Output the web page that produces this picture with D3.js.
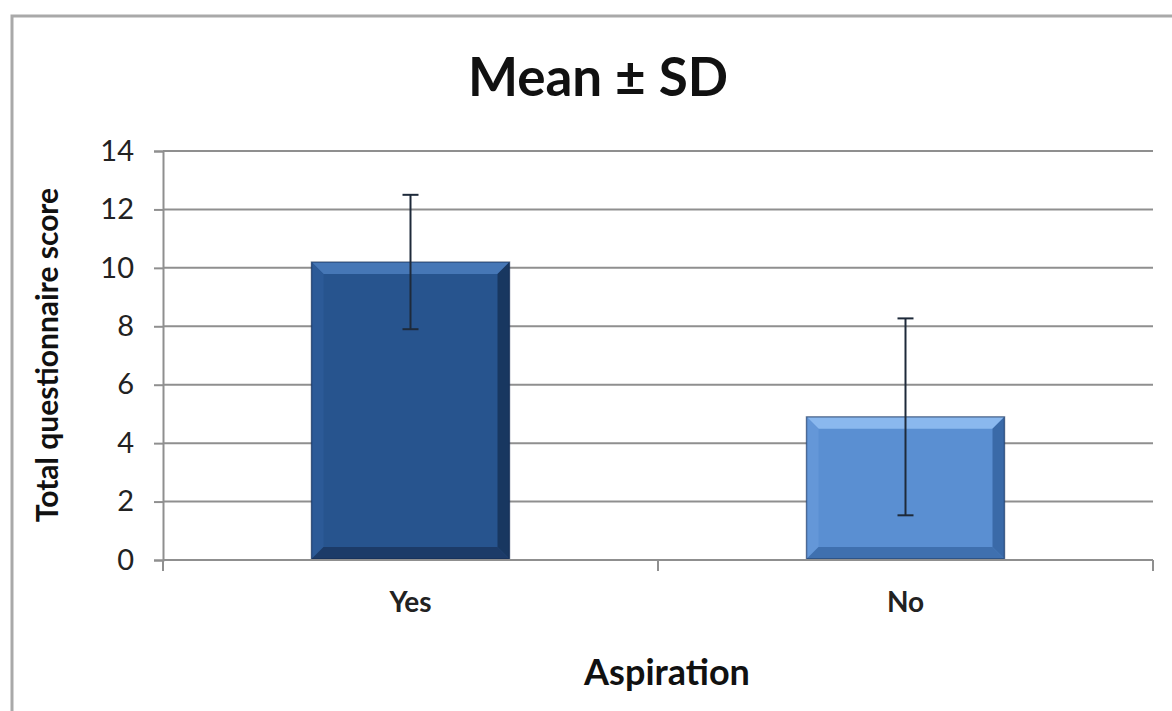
<!DOCTYPE html>
<html><head><meta charset="utf-8">
<script src="https://cdn.jsdelivr.net/npm/d3@7"></script>
<style>html,body{margin:0;padding:0;background:#fff;}svg{display:block;}</style>
</head><body>
<svg id="chart" width="1172" height="711"></svg>
<script>
const categories = ["Yes", "No"];
const means = [10.2, 4.9];
const sds = [2.3, 3.37];
const yTicks = [0, 2, 4, 6, 8, 10, 12, 14];
const title = "Mean ± SD";
const yTitle = "Total questionnaire score";
const xTitle = "Aspiration";

const font = "Lato, 'Open Sans', sans-serif";
const svg = d3.select("#chart");
const L = 163, R = 1153, B = 560, T = 151;

// outer frame
svg.append("path").attr("d", `M12,711 L12,16 L1172,16`).attr("fill", "none")
  .attr("stroke", "#a9a9a9").attr("stroke-width", 3);

const x = d3.scaleBand().domain(categories).range([L, R]).paddingInner(0.6).paddingOuter(0.3);
const xOuter = d3.scaleBand().domain(categories).range([L, R]);
const y = d3.scaleLinear().domain([0, 14]).range([B, T]);

// gridlines
svg.append("g").selectAll("line").data(yTicks.filter(d => d > 0)).join("line")
  .attr("x1", L).attr("x2", R).attr("y1", d => y(d)).attr("y2", d => y(d))
  .attr("stroke", "#8f8f8f").attr("stroke-width", 2);

// y axis
const yAxis = svg.append("g").attr("transform", `translate(${L},0)`)
  .call(d3.axisLeft(y).tickValues(yTicks).tickSize(9).tickPadding(20).tickFormat(d3.format("d")));
yAxis.select(".domain").attr("stroke", "#8f8f8f").attr("stroke-width", 2);
yAxis.selectAll(".tick line").attr("stroke", "#8f8f8f").attr("stroke-width", 2);
yAxis.selectAll("text").attr("font-family", font).attr("font-size", 29).attr("fill", "#222");

// bars with bevel
const colors = [
  {main: "#27548e", top: "#4677b6", left: "#2c5a97", right: "#183760", bottom: "#1c3b68"},
  {main: "#5a8fd2", top: "#8ab8ee", left: "#6497d8", right: "#3a6aa8", bottom: "#3f70af"}
];
const bev = 12;
const barG = svg.append("g");
categories.forEach((c, i) => {
  const x0 = x(c), x1 = x(c) + x.bandwidth(), y0 = y(means[i]), y1 = y(0) - 1;
  const col = colors[i];
  const g = barG.append("g");
  g.append("rect").attr("x", x0).attr("y", y0).attr("width", x1 - x0).attr("height", y1 - y0).attr("fill", col.main);
  g.append("polygon").attr("points", [[x0,y0],[x1,y0],[x1-bev,y0+bev],[x0+bev,y0+bev]].join(" ")).attr("fill", col.top);
  g.append("polygon").attr("points", [[x0,y0],[x0+bev,y0+bev],[x0+bev,y1-bev],[x0,y1]].join(" ")).attr("fill", col.left);
  g.append("polygon").attr("points", [[x1,y0],[x1,y1],[x1-bev,y1-bev],[x1-bev,y0+bev]].join(" ")).attr("fill", col.right);
  g.append("polygon").attr("points", [[x0,y1],[x1,y1],[x1-bev,y1-bev],[x0+bev,y1-bev]].join(" ")).attr("fill", col.bottom);
  g.append("rect").attr("x", x0).attr("y", y0).attr("width", x1 - x0).attr("height", y1 - y0)
    .attr("fill", "none").attr("stroke", "#10264a").attr("stroke-opacity", 0.5).attr("stroke-width", 1.5);
});

// x axis
const xAxisG = svg.append("g").attr("transform", `translate(0,${B})`);
xAxisG.append("line").attr("x1", L).attr("x2", R).attr("stroke", "#8f8f8f").attr("stroke-width", 2);
const bounds = [L, ...categories.map(c => xOuter(c) + xOuter.bandwidth())];
xAxisG.selectAll("line.tk").data(bounds).join("line").attr("class", "tk")
  .attr("x1", d => d).attr("x2", d => d).attr("y1", 0).attr("y2", 11)
  .attr("stroke", "#8f8f8f").attr("stroke-width", 2);
xAxisG.selectAll("text").data(categories).join("text")
  .attr("x", d => x(d) + x.bandwidth() / 2).attr("y", 52)
  .attr("text-anchor", "middle").attr("font-family", font).attr("font-weight", "bold")
  .attr("font-size", 28).attr("fill", "#222").text(d => d);

// error bars
const eg = svg.append("g");
categories.forEach((c, i) => {
  const cx = x(c) + x.bandwidth() / 2;
  const yt = y(means[i] + sds[i]), yb = y(means[i] - sds[i]);
  const stroke = "#1e2a3a";
  eg.append("line").attr("x1", cx).attr("x2", cx).attr("y1", yt).attr("y2", yb).attr("stroke", stroke).attr("stroke-width", 2);
  eg.append("line").attr("x1", cx - 8).attr("x2", cx + 8).attr("y1", yt).attr("y2", yt).attr("stroke", stroke).attr("stroke-width", 2);
  eg.append("line").attr("x1", cx - 8).attr("x2", cx + 8).attr("y1", yb).attr("y2", yb).attr("stroke", stroke).attr("stroke-width", 2);
});

// titles
svg.append("text").attr("x", 598).attr("y", 96).attr("text-anchor", "middle")
  .attr("font-family", font).attr("font-weight", "bold").attr("font-size", 53).attr("fill", "#111").text(title);
svg.append("text").attr("transform", "translate(58,355) rotate(-90)").attr("text-anchor", "middle")
  .attr("font-family", font).attr("font-weight", "bold").attr("font-size", 30).attr("fill", "#111").text(yTitle);
svg.append("text").attr("x", 667).attr("y", 685).attr("text-anchor", "middle")
  .attr("font-family", font).attr("font-weight", "bold").attr("font-size", 36).attr("fill", "#111").text(xTitle);
</script>
</body></html>
